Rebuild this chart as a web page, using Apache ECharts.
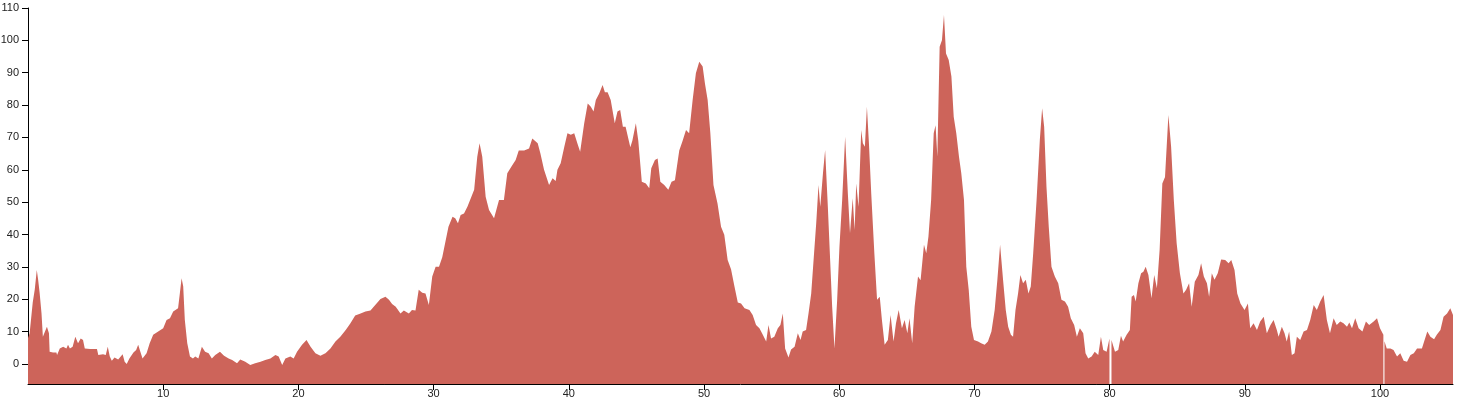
<!DOCTYPE html>
<html>
<head>
<meta charset="utf-8">
<script src="https://cdn.jsdelivr.net/npm/echarts@6/dist/echarts.min.js"></script>
<style>
html,body{margin:0;padding:0;background:#fff;}
#chart{width:1457px;height:409px;}
</style>
</head>
<body>
<div id="chart"></div>
<script>
var xs = [0,0.12,0.25,0.35,0.5,0.65,0.75,0.86,1.0,1.1,1.23,1.4,1.55,1.6,1.85,2.1,2.15,2.35,2.6,2.84,2.96,3.1,3.3,3.5,3.7,3.9,4.07,4.2,4.6,5.1,5.2,5.55,5.75,5.9,6.05,6.2,6.4,6.67,6.8,7.0,7.15,7.3,7.5,7.8,8.0,8.15,8.27,8.47,8.77,9.0,9.26,9.63,10,10.25,10.5,10.74,11.1,11.23,11.36,11.48,11.6,11.78,11.98,12.2,12.37,12.6,12.86,13.1,13.36,13.6,13.85,14.2,14.5,14.84,15.1,15.46,15.7,16.07,16.44,16.8,17.2,17.55,17.93,18.3,18.54,18.8,19.04,19.4,19.65,19.9,20.27,20.6,20.9,21.26,21.63,22,22.37,22.74,23.1,23.5,23.85,24.2,24.6,24.96,25.33,25.7,26.07,26.44,26.7,26.93,27.2,27.55,27.8,28.17,28.4,28.66,28.9,29.16,29.4,29.65,29.9,30.15,30.4,30.64,30.9,31.1,31.4,31.6,31.8,32,32.25,32.5,32.7,33,33.23,33.4,33.6,33.85,34.1,34.47,34.84,35.2,35.45,35.83,36.07,36.3,36.7,37.06,37.3,37.7,37.9,38.17,38.54,38.8,39.03,39.16,39.4,39.66,39.9,40.15,40.4,40.65,40.84,41.14,41.4,41.63,41.83,42,42.25,42.5,42.67,42.87,43.1,43.4,43.6,43.8,44,44.2,44.55,44.7,44.96,45.14,45.4,45.7,45.95,46.1,46.37,46.57,46.77,47.06,47.36,47.6,47.85,48.17,48.42,48.67,48.9,49.16,49.4,49.65,49.9,50.07,50.27,50.47,50.7,51,51.26,51.5,51.75,52,52.25,52.5,52.74,53,53.36,53.6,53.85,54.1,54.35,54.6,54.77,54.96,55.2,55.46,55.65,55.83,56,56.25,56.44,56.7,56.94,57.14,57.3,57.55,57.73,57.93,58.12,58.3,58.47,58.6,58.8,58.96,59.16,59.33,59.48,59.65,59.85,60.02,60.22,60.44,60.64,60.8,61,61.14,61.26,61.43,61.63,61.75,61.9,62.05,62.2,62.37,62.6,62.8,63,63.16,63.36,63.6,63.8,64.02,64.2,64.4,64.64,64.84,65.04,65.2,65.4,65.58,65.83,66.02,66.27,66.44,66.6,66.8,66.99,67.13,67.26,67.43,67.6,67.75,67.9,68.1,68.3,68.47,68.66,68.86,69.03,69.23,69.4,69.58,69.77,69.97,70.27,70.5,70.76,71,71.26,71.5,71.7,71.9,72.12,72.32,72.5,72.7,72.86,73.04,73.23,73.4,73.6,73.8,74,74.17,74.35,74.6,74.84,75.01,75.16,75.33,75.5,75.7,75.95,76.2,76.44,76.7,76.93,77.13,77.38,77.58,77.8,78.05,78.22,78.42,78.67,78.9,79.16,79.36,79.53,79.78,79.99,80.06,80.14,80.4,80.64,80.84,81.0,81.26,81.5,81.63,81.8,81.93,82.13,82.33,82.5,82.67,82.87,83.1,83.3,83.5,83.7,83.9,84.1,84.35,84.55,84.75,84.96,85.2,85.46,85.66,85.88,86.07,86.3,86.57,86.77,86.97,87.2,87.36,87.56,87.76,88.0,88.25,88.55,88.8,89,89.24,89.44,89.68,89.98,90.23,90.4,90.65,90.9,91.14,91.4,91.63,91.9,92.13,92.37,92.5,92.74,92.94,93.1,93.28,93.48,93.68,93.85,94.1,94.35,94.6,94.84,95.1,95.33,95.58,95.83,96.07,96.3,96.57,96.8,97.06,97.3,97.56,97.73,97.93,98.17,98.42,98.7,98.96,99.2,99.53,99.78,100.0,100.25,100.29,100.33,100.5,100.77,101,101.26,101.5,101.75,102,102.25,102.5,102.74,103.1,103.5,103.73,104,104.2,104.47,104.7,104.96,105.2,105.4];
var ys = [8,9.5,10,19,23,29,26,22,15.6,8.4,8.4,11.5,9.5,3.8,3.5,3.5,2.8,4.8,5.3,4.8,5.9,4.8,5.3,8.4,6.4,7.9,7.4,4.8,4.6,4.6,2.8,3,2.8,5.3,2.3,1,2,1.4,1.2,3,0.7,0,1.7,3.5,4.3,5.9,4.3,1.7,3.3,6.4,9,10,11,13.6,14.1,16.2,17.2,21.8,26.5,24,13.6,6.4,2.3,1.7,2.3,1.7,5.3,3.8,3.3,1.7,2.8,3.8,2.5,1.7,1.2,0.2,1.4,0.7,-0.3,0.2,0.7,1.2,1.7,2.8,2.3,-0.3,1.7,2.3,1.7,3.8,5.9,7.4,5.3,3.3,2.5,3.3,4.8,6.9,8.4,10.5,12.6,15,15.6,16.2,16.5,18.3,20.1,20.8,19.8,18.5,17.7,15.6,16.5,15.6,16.7,16.5,22.9,22,21.8,18.2,27,30,30,33,38.3,42.4,45.5,45,43.5,46,46.5,48.6,50.7,53.8,64,68.2,64,51.7,47.6,45,50.7,50.7,58.9,61.5,63,66,66,66.6,69.7,68.2,65,60,55.3,57.4,56.5,60,62,67,71.3,70.8,71.3,68,65.6,74.4,80.5,79.5,78,81.6,83.6,86.2,84,84,81.6,74.4,78,78.5,73.3,73.3,67,69,74.4,69,56.3,55.8,54.3,60.5,63,63.5,56.3,55.3,53.8,56.3,56.8,66,69,72.3,71.3,81.6,89.8,93.4,91.9,86.7,81.6,71.3,55.3,49.6,42.4,39.9,32.1,29.3,24,19,18.7,17.2,16.7,15.1,12,11,9,6.9,12,7.9,8.4,11,12,15.6,4.8,2,4.5,5.3,9.5,7.4,10,10.5,15.6,21.8,33,43.5,55.3,48.6,58.9,66.1,48.6,32.1,17.7,4.8,19.8,36.3,50.7,70.2,52.7,40.4,51.2,41.4,55.8,48.6,72.3,68.2,67.1,79.5,68.2,52.7,34.2,19.8,20.8,13.6,5.9,7.4,15.1,6.9,12.6,16.7,11,13.6,9.5,14.1,6.4,17.7,27,25.9,36.8,34.2,39.3,50.7,71.3,73.8,64,98,100,107.8,95.9,93.9,88.8,76.4,71.3,64,58.9,50.7,30,22.9,11.5,7.4,6.9,6.4,5.9,6.9,10,16.7,26,36.8,26,16.7,11.5,9,8.4,16.7,21.8,27.5,24.9,26,21.8,23.9,34.2,50.7,69.2,79,73.3,54.8,42.4,30,27,24.9,19.8,19.3,17.7,14.1,12,8.4,11,9.5,3.3,1.7,2.3,3.8,2.8,8.4,4.3,3.8,7.9,null,7.4,3.8,4.3,8.7,6.9,9,10.5,20.8,21.3,19.3,24.9,28,28.5,30,27.5,20.3,27.5,23.4,35.2,55.8,57.8,76.9,67.1,50.7,37.3,28,21.8,22.9,24.9,17.7,25.4,27.5,31.1,27,24.9,20.8,28,26,28,32.3,32.1,31.1,32.1,29,21.8,18.7,16.7,18.7,11,12.6,10.5,13.1,14.6,9.5,12,13.6,10.5,8.4,11.5,9.5,6.9,10,2.8,3.3,8.4,7.4,10,10.5,13.6,18.2,16.7,19.3,21.3,13.6,9.5,14.1,12,13.1,12.6,11.5,12.8,11,14.1,11,10,13.1,12,13.1,14.1,11,9,null,7,4.8,4.8,4.3,2.3,3.3,1,0.7,2.8,3.3,4.8,4.8,10,8.4,7.6,9,10.5,14.6,15.6,17.2,15.1];
var xTicks = [10,20,30,40,50,60,70,80,90,100];
var yTicks = [0,10,20,30,40,50,60,70,80,90,100,110];

var seriesData = xs.map(function (x, i) { return [x, ys[i]]; });

var chart = echarts.init(document.getElementById('chart'), null, {renderer: 'canvas'});
var axisText = {color: '#222', fontSize: 11, fontFamily: 'Liberation Sans, Arial, sans-serif'};
chart.setOption({
  animation: false,
  grid: {left: 28, right: 4, top: 8, bottom: 25, containLabel: false, outerBoundsMode: 'none'},
  xAxis: {
    type: 'value',
    min: 0,
    max: 105.4,
    axisLine: {show: true, onZero: false, lineStyle: {color: '#000', width: 1}},
    axisTick: {show: true, length: 6, lineStyle: {color: '#000'}, customValues: xTicks},
    axisLabel: Object.assign({margin: 4, customValues: xTicks}, axisText),
    splitLine: {show: false}
  },
  yAxis: {
    type: 'value',
    min: -6.2,
    max: 110,
    axisLine: {show: true, onZero: false, lineStyle: {color: '#000', width: 1}},
    axisTick: {show: true, length: 6, lineStyle: {color: '#000'}, customValues: yTicks},
    axisLabel: Object.assign({margin: 9, customValues: yTicks}, axisText),
    splitLine: {show: false}
  },
  series: [{
    type: 'line',
    data: seriesData,
    showSymbol: false,
    symbol: 'none',
    connectNulls: false,
    lineStyle: {width: 0, color: 'rgb(205,100,90)'},
    areaStyle: {color: 'rgb(205,100,90)', opacity: 1, origin: 'start'},
    silent: true
  }]
});
</script>
</body>
</html>
